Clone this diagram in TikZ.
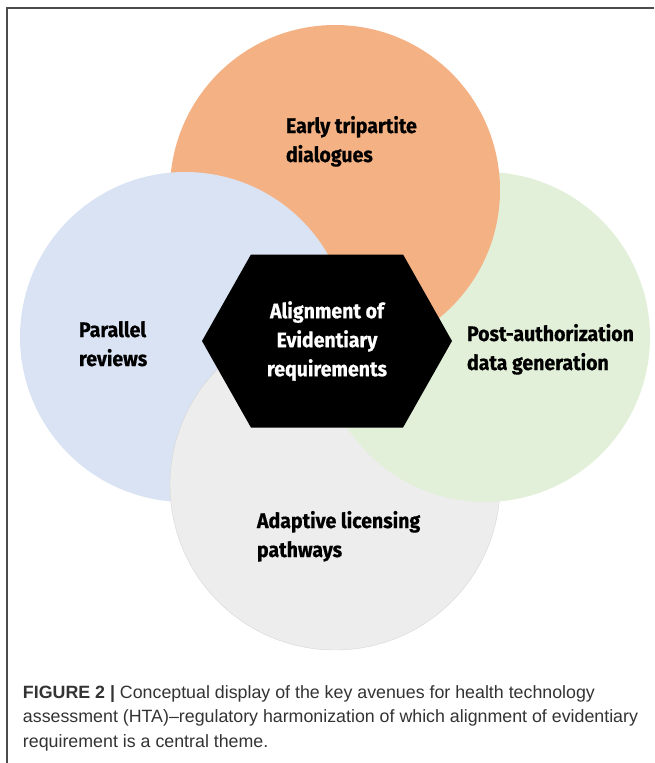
\documentclass[tikz,border=0pt]{standalone}
\usepackage{fontspec}
\setmainfont{Liberation Sans}
\newfontfamily\condfont[FakeStretch=0.93, FakeBold=0.6]{Fira Sans}
\usepackage{tikz}
\usetikzlibrary{backgrounds, calc, positioning, shapes, shapes.symbols}

\definecolor{earlyfill}{HTML}{F4B183}
\definecolor{parallelfill}{HTML}{DAE3F3}
\definecolor{postfill}{HTML}{E2F0D9}
\definecolor{adaptivefill}{HTML}{EDEDED}
\definecolor{adaptiveline}{HTML}{D6D6D6}
\definecolor{captiontext}{HTML}{333333}

\begin{document}
\begin{tikzpicture}[x=1pt, y=-1pt, font=\condfont\bfseries\fontsize{21}{29}\selectfont]
\tikzset{every node/.style={inner sep=0mm, outer sep=0mm}}

\tikzstyle{avenue}=[circle, minimum size=330pt]
\tikzstyle{theme}=[anchor=base west, align=left]
\tikzstyle{hexa}=[signal, signal to=west and east, signal pointer angle=121, fill=black, text=white, align=center, minimum width=250pt, minimum height=173pt]
\tikzstyle{caption}=[anchor=base west, align=left, text=captiontext, font=\rmfamily\mdseries\fontsize{17.8}{24.5}\selectfont]
\tikzstyle{frame}=[line width=1.5pt, draw=black!70]

\useasboundingbox (0,0) rectangle (654,763);

\draw[frame] (7,763) -- (7,8) -- (654,8);

% the four avenues, each one over the one before
\node[avenue, fill=parallelfill] (parallel) at (185,337) {};
\node[avenue, fill=adaptivefill, draw=adaptiveline, thin] (adaptive) at (335,485) {};
\node[avenue, fill=postfill] (post) at (485,337) {};
\node[avenue, fill=earlyfill] (early) at (335,190) {};
\begin{scope}
    \clip (early.center) circle (166.5pt);
    \fill[parallelfill] (parallel.center) circle (165pt);
\end{scope}

\node[hexa] (align) at (327,341) {Alignment of\\Evidentiary\\requirements};

% base of a label is the base of its last line
\node[theme] (early label) at (286,162) {Early tripartite\\dialogues};
\node[theme] (parallel label) at (79,366) {Parallel\\reviews};
\node[theme] (post label) at (467,370) {Post-authorization\\data generation};
\node[theme] (adaptive label) at (257,557) {Adaptive licensing\\pathways};

\node[caption] (caption) at (23,747) {\textbf{FIGURE 2 |} Conceptual display of the key avenues for health technology\\assessment (HTA)–regulatory harmonization of which alignment of evidentiary\\requirement is a central theme.};

\end{tikzpicture}
\end{document}
